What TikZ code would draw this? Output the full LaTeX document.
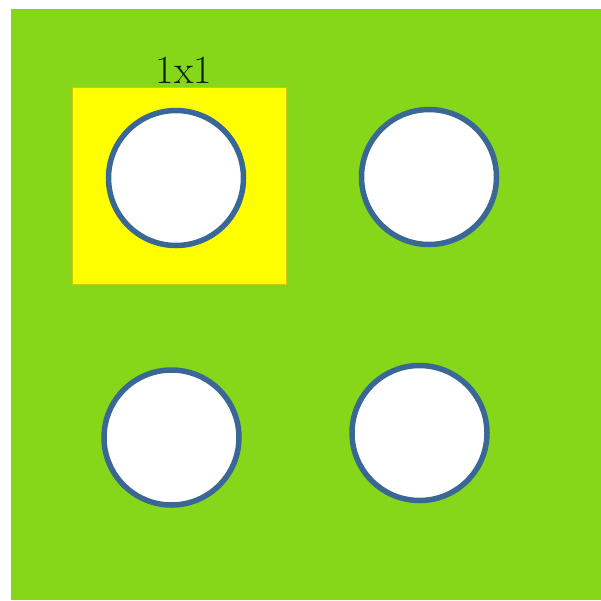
\documentclass[tikz,border=0pt]{standalone}
\usepackage{fontspec}
\definecolor{bggreen}{RGB}{134,214,26}
\definecolor{hiyellow}{RGB}{255,255,0}
\definecolor{ringblue}{RGB}{58,104,150}
\begin{document}
\begin{tikzpicture}[x=1pt,y=-1pt,
  hole/.style={circle,draw=ringblue,line width=5.5pt,fill=white,minimum size=135pt,inner sep=0pt}]
\useasboundingbox (0,0) rectangle (601,600);
\fill[white] (0,0) rectangle (601,600);
\fill[bggreen] (11,9) rectangle (601,600);
\node[fill=hiyellow,draw=hiyellow!80!black,line width=0.4pt,minimum width=214pt,minimum height=197pt,inner sep=0pt] (cell) at (179,185.5) {};
\node[hole] (c1) at (176,178) {};
\node[hole] (c2) at (429,177) {};
\node[hole] (c3) at (171.5,437.5) {};
\node[hole] (c4) at (419.5,433) {};
\node[font=\fontsize{40}{44}\selectfont,text=black!85!green,anchor=base,inner sep=0pt] (lbl) at (184,83) {1x1};
\end{tikzpicture}
\end{document}
